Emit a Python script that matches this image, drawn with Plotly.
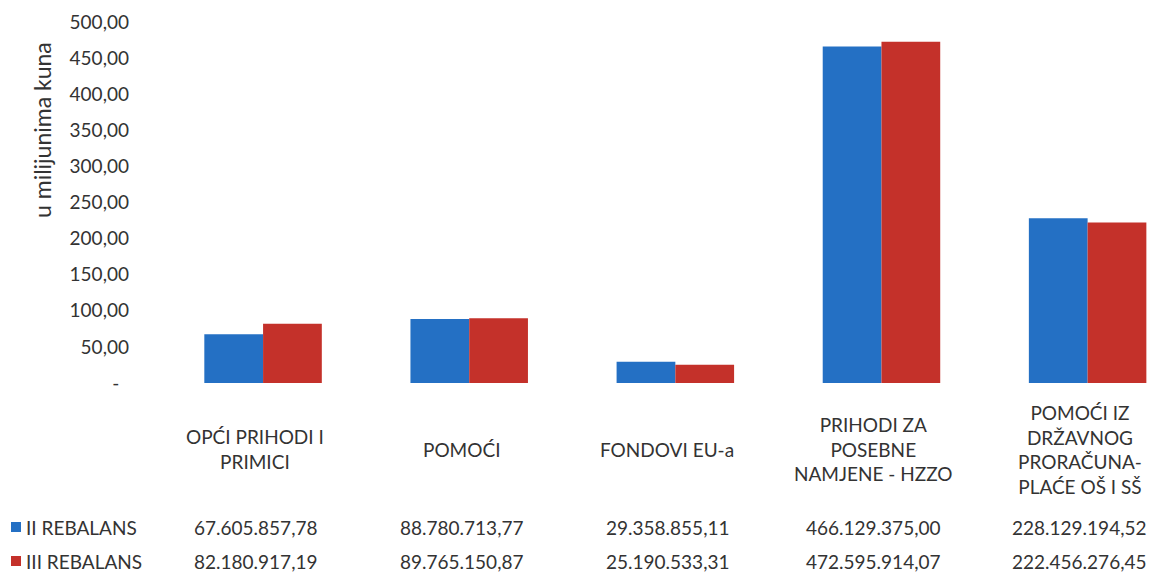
import plotly.graph_objects as go

categories = ["OPĆI PRIHODI I<br>PRIMICI", "POMOĆI", "FONDOVI EU-a",
              "PRIHODI ZA<br>POSEBNE<br>NAMJENE - HZZO",
              "POMOĆI IZ<br>DRŽAVNOG<br>PRORAČUNA-<br>PLAĆE OŠ I SŠ"]
series_names = ["II REBALANS", "III REBALANS"]
ii_rebalans = [67605857.78, 88780713.77, 29358855.11, 466129375.00, 228129194.52]
iii_rebalans = [82180917.19, 89765150.87, 25190533.31, 472595914.07, 222456276.45]
tick_vals = [0, 50, 100, 150, 200, 250, 300, 350, 400, 450, 500]
tick_text = ["-\u00a0\u00a0", "50,00", "100,00", "150,00", "200,00", "250,00",
             "300,00", "350,00", "400,00", "450,00", "500,00"]
y_title = "u milijunima kuna"

colors = ["#2470C4", "#C4312A"]
FONT = "Lato, Open Sans, sans-serif"
TXT = "#333333"
FS = 19

OFF = 8  # browser body margin
W, H = 1168 - OFF, 575 - OFF
# plot area in screen pixels
SX0, SX1, SY0, SY1 = 160, 1168, 22, 383
ML, MR = SX0 - OFF, 0
MT, MB = SY0 - OFF, H - (SY1 - OFF)
PW = W - ML - MR
PH = H - MT - MB


def px_x(p):
    return (p - OFF - ML) / PW


def px_y(p):
    return (H - MB - (p - OFF)) / PH


def fmt(v):
    s = f"{v:,.2f}"
    return s.replace(",", "X").replace(".", ",").replace("X", ".")


xs = list(range(len(categories)))
fig = go.Figure()
for name, vals, c in zip(series_names, [ii_rebalans, iii_rebalans], colors):
    fig.add_trace(go.Bar(x=xs, y=[v / 1e6 for v in vals], name=name,
                         marker=dict(color=c, line=dict(width=0))))

ann = []
# category labels
for i, cat in enumerate(categories):
    ann.append(dict(x=i, y=px_y(449), xref="x", yref="paper", text=cat,
                    showarrow=False, xanchor="center", yanchor="middle", xshift=-8,
                    font=dict(family=FONT, size=FS, color=TXT)))
# data table rows
for r, (name, vals, c) in enumerate(zip(series_names, [ii_rebalans, iii_rebalans], colors)):
    yy = px_y(527 + r * 34)
    ann.append(dict(x=px_x(24), y=yy, xref="paper", yref="paper", text=name,
                    showarrow=False, xanchor="left", yanchor="middle",
                    font=dict(family=FONT, size=FS, color=TXT)))
    for i, v in enumerate(vals):
        ann.append(dict(x=i, y=yy, xref="x", yref="paper", text=fmt(v),
                        showarrow=False, xanchor="center", yanchor="middle", xshift=-8,
                        font=dict(family=FONT, size=FS, color=TXT)))

# y title
ann.append(dict(x=px_x(42), y=px_y(130), xref="paper", yref="paper", text=y_title,
                showarrow=False, textangle=-90, xanchor="center", yanchor="middle",
                font=dict(family=FONT, size=23, color=TXT)))

shapes = []
for r, c in enumerate(colors):
    yc = 527 + r * 34
    shapes.append(dict(type="rect", xref="paper", yref="paper",
                       x0=px_x(11), x1=px_x(21), y0=px_y(yc + 5), y1=px_y(yc - 5),
                       fillcolor=c, line=dict(width=0)))

fig.update_layout(
    width=W, height=H,
    margin=dict(l=ML, r=MR, t=MT, b=MB),
    paper_bgcolor="white", plot_bgcolor="white",
    barmode="group", bargap=0.43, bargroupgap=0,
    showlegend=False,
    font=dict(family=FONT, size=FS, color=TXT),
    xaxis=dict(range=[-0.5, 4.39], showticklabels=False, showgrid=False,
               zeroline=False, showline=False, ticks=""),
    yaxis=dict(range=[0, 500], tickvals=tick_vals, ticktext=tick_text,
               showgrid=False, zeroline=False, showline=False,
               ticklabelstandoff=30, tickfont=dict(family=FONT, size=FS, color=TXT)),
    annotations=ann, shapes=shapes,
)

fig.write_html("out.html")
